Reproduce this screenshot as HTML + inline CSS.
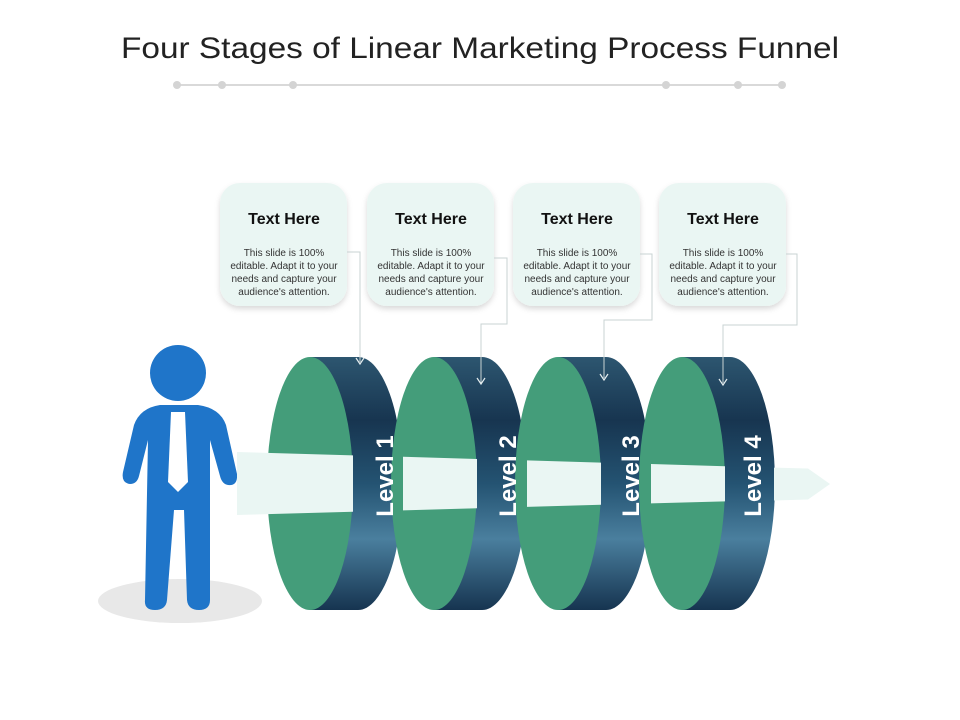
<!DOCTYPE html>
<html><head><meta charset="utf-8"><style>
html,body{margin:0;padding:0;background:#fff;}
svg{display:block;font-family:"Liberation Sans",sans-serif;}
</style></head><body>
<svg width="960" height="720" viewBox="0 0 960 720" xmlns="http://www.w3.org/2000/svg">
<defs>
<linearGradient id="band" x1="0" y1="0" x2="0" y2="1">
<stop offset="0" stop-color="#2d5670"/>
<stop offset="0.25" stop-color="#173550"/>
<stop offset="0.5" stop-color="#245372"/>
<stop offset="0.72" stop-color="#4a7f9e"/>
<stop offset="1" stop-color="#163450"/>
</linearGradient>
<filter id="sh" x="-20%" y="-20%" width="140%" height="140%"><feDropShadow dx="0" dy="3" stdDeviation="3" flood-color="#000" flood-opacity="0.15"/></filter>
</defs>
<text x="480" y="58" text-anchor="middle" font-size="30" fill="#222" textLength="718" lengthAdjust="spacingAndGlyphs">Four Stages of Linear Marketing Process Funnel</text>
<line x1="177" y1="85" x2="782" y2="85" stroke="#d9d9d9" stroke-width="2"/>
<g fill="#d4d4d4"><circle cx="177" cy="85" r="4"/><circle cx="222" cy="85" r="4"/><circle cx="293" cy="85" r="4"/><circle cx="666" cy="85" r="4"/><circle cx="738" cy="85" r="4"/><circle cx="782" cy="85" r="4"/></g>

<!-- cards -->
<g filter="url(#sh)" fill="#eaf6f3">
<rect x="220" y="183" width="127" height="123" rx="20"/>
<rect x="367" y="183" width="127" height="123" rx="20"/>
<rect x="513" y="183" width="127" height="123" rx="20"/>
<rect x="659" y="183" width="127" height="123" rx="20"/>
</g>
<g text-anchor="middle" fill="#111">
<g font-size="16" font-weight="bold"><text x="284" y="224">Text Here</text><text x="431" y="224">Text Here</text><text x="577" y="224">Text Here</text><text x="723" y="224">Text Here</text></g>
<g font-size="10" fill="#333">
<text x="284" y="256">This slide is 100%</text><text x="284" y="269">editable.  Adapt it to your</text><text x="284" y="282">needs and capture your</text><text x="284" y="295">audience's attention.</text>
<text x="431" y="256">This slide is 100%</text><text x="431" y="269">editable.  Adapt it to your</text><text x="431" y="282">needs and capture your</text><text x="431" y="295">audience's attention.</text>
<text x="577" y="256">This slide is 100%</text><text x="577" y="269">editable.  Adapt it to your</text><text x="577" y="282">needs and capture your</text><text x="577" y="295">audience's attention.</text>
<text x="723" y="256">This slide is 100%</text><text x="723" y="269">editable.  Adapt it to your</text><text x="723" y="282">needs and capture your</text><text x="723" y="295">audience's attention.</text>
</g></g>

<!-- person -->
<ellipse cx="180" cy="601" rx="82" ry="22" fill="#e8e8e8"/>
<g fill="#1f75c9">
<circle cx="178" cy="373" r="28"/>
<path d="M160 405 L198 405 Q220 408 226 425 L237 474 Q238 486 228 485 Q222 484 220 476 L210 440 L210 600 Q210 610 199 610 Q188 610 187 600 L184 510 L174 510 L167 600 Q166 610 155 610 Q144 610 145 600 L148 440 L139 476 Q137 484 130 484 Q121 483 123 472 L134 425 Q140 408 160 405 Z"/>
</g>
<path d="M171 412 L185 412 L188 482 L178 492 L168 482 Z" fill="#fff"/>

<!-- discs -->
<g id="discs">
<!-- disc1 cx=310 -->
<path d="M310 357 L358 357 A45 126.5 0 0 1 358 610 L310 610 Z" fill="url(#band)"/>
<ellipse cx="310" cy="483.5" rx="43" ry="126.5" fill="#449d7a"/>
<polygon points="237,452 353,455.4 353,511.8 237,515" fill="#eaf6f3"/>
<!-- disc2 cx=434 -->
<path d="M434 357 L482 357 A45 126.5 0 0 1 482 610 L434 610 Z" fill="url(#band)"/>
<ellipse cx="434" cy="483.5" rx="43" ry="126.5" fill="#449d7a"/>
<polygon points="403,456.8 477,459 477,508.3 403,510.4" fill="#eaf6f3"/>
<!-- disc3 cx=558 -->
<path d="M558 357 L606 357 A45 126.5 0 0 1 606 610 L558 610 Z" fill="url(#band)"/>
<ellipse cx="558" cy="483.5" rx="43" ry="126.5" fill="#449d7a"/>
<polygon points="527,460.4 601,462.6 601,504.8 527,506.9" fill="#eaf6f3"/>
<!-- disc4 cx=682 -->
<path d="M682 357 L730 357 A45 126.5 0 0 1 730 610 L682 610 Z" fill="url(#band)"/>
<ellipse cx="682" cy="483.5" rx="43" ry="126.5" fill="#449d7a"/>
<polygon points="651,464 725,466.2 725,501.4 651,503.4" fill="#eaf6f3"/>
<polygon points="774,467.6 808,468.5 830,484 808,499.5 774,500.5" fill="#eaf6f3"/>
</g>
<g fill="#fff" font-size="24" font-weight="bold" text-anchor="middle">
<text transform="translate(393,476) rotate(-90)">Level 1</text>
<text transform="translate(516,476) rotate(-90)">Level 2</text>
<text transform="translate(639,476) rotate(-90)">Level 3</text>
<text transform="translate(761,476) rotate(-90)">Level 4</text>
</g>

<!-- connectors -->
<g fill="none" stroke="#c8d3d3" stroke-width="1">
<polyline points="347,252 360,252 360,362"/>
<polyline points="494,258 507,258 507,324 481,324 481,383"/>
<polyline points="640,254 652,254 652,320 604,320 604,378"/>
<polyline points="786,254 797,254 797,325 723,325 723,383"/>
</g>
<g fill="none" stroke="#e6eef0" stroke-width="1.2">
<polyline points="356,358 360,364 364,358"/>
<polyline points="477,378 481,384 485,378"/>
<polyline points="600,374 604,380 608,374"/>
<polyline points="719,379 723,385 727,379"/>
</g>
</svg>
</body></html>
